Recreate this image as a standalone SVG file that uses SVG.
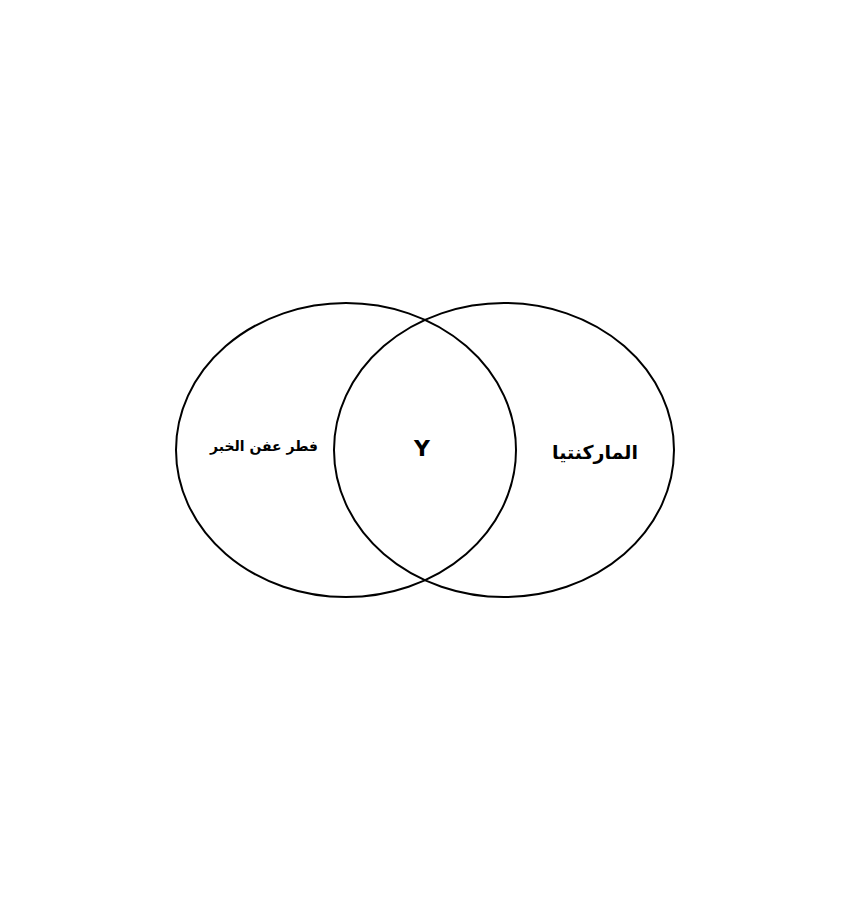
<svg xmlns="http://www.w3.org/2000/svg" width="850" height="900" viewBox="0 0 850 900">
<style>
.set{fill:none;stroke:#000;stroke-width:2}
.lbl{font-family:"DejaVu Sans","Noto Sans",sans-serif;font-weight:bold;fill:#000;text-anchor:middle}
</style>
<rect width="850" height="900" fill="#fff"/>
<g id="left-set">
<ellipse class="set" cx="346" cy="450" rx="170" ry="147"/>
<text class="lbl" x="264" y="451" font-size="14" direction="rtl">فطر عفن الخبر</text>
</g>
<g id="right-set">
<ellipse class="set" cx="504" cy="450" rx="170" ry="147"/>
<text class="lbl" x="595" y="459" font-size="19" direction="rtl">الماركنتيا</text>
</g>
<g id="intersection">
<text class="lbl" x="422" y="456" font-size="22">Y</text>
</g>
<g id="connectors"></g>
</svg>
